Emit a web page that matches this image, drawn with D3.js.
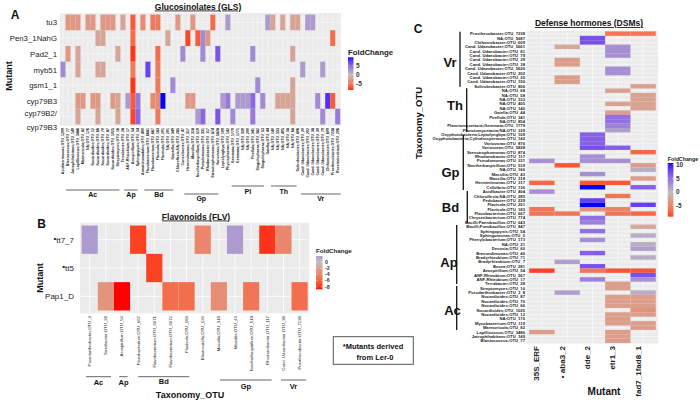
<!DOCTYPE html>
<html><head><meta charset="utf-8">
<script src="https://cdn.jsdelivr.net/npm/d3@7"></script>
<style>body{margin:0;background:#fff;} text{font-family:"Liberation Sans",Arial,sans-serif;}</style>
</head><body><script>
// ---------------- DATA ----------------
const mutantsA = ["tu3","Pen3_1NahG","Pad2_1","myb51","gsm1_1","cyp79B3","cyp79B2/cyp79B3"];
const taxaA = ["Aciditerrimonas;OTU_1209","Blastococcus;OTU_77","Jatrophihabitans;OTU_149","Lapillicoccus;OTU_3486","Marmoricola;OTU_82","NA;OTU_176","Nocardioides;OTU_12","Nocardioides;OTU_66","Nocardioides;OTU_70","Nocardioides;OTU_87","Nocardioides;OTU_1025","Streptomyces;OTU_16","Terrabacter;OTU_28",
 "ANF-Rhizobium;OTU_17","Azospirillum;OTU_54","Sphingopyxis;OTU_54","Armatimonadales;OTU_400",
 "Flavobacterium;OTU_6681","Flavobacterium;OTU_667","Flavisola;OTU_183","Flavisola;OTU_201","NA;OTU_201","Niastella;OTU_349","Chloroflexia;NA;OTU_285","Conexibacter;OTU_47",
 "Herminiimonas;OTU_317","Massilia;OTU_318","Noviherbaspirillum;OTU_519","Pseudomonas;OTU_331","Rhodanobacter;OTU_117","Stenotrophomonas;OTU_874","Variovorax;OTU_5828","Leptolyngbya;OTU_109","Phycisphaerae;OTU_142",
 "Gemmata;OTU_1779","Gemmata;OTU_1771","NA;OTU_339","NA;OTU_200","Pirellula;OTU_341","Singulisphaera;OTU_382","Singulisphaera;OTU_53","Gaiella;OTU_44",
 "NA;OTU_140","NA;OTU_333","NA;OTU_405","NA;OTU_58","NA;OTU_68","Solirubrobacter;OTU_806",
 "Cand. Udaeobacter;OTU_20","Cand. Udaeobacter;OTU_202","Cand. Udaeobacter;OTU_38","Cand. Udaeobacter;OTU_39","Cand. Udaeobacter;OTU_79","Chthoniobacter;OTU_609","Prosthecobacter;OTU_7238","Roseimicrobium;OTU_206"];
const groupsA = [["Ac",66,119.3,190,197],["Ap",124.3,137.7,190,197],["Bd",144.3,173.3,190,197],["Gp",184.3,218.3,194,201],["Pl",231.7,264,186,194],["Th",271,296.7,186,194],["Vr",301,340.7,194,201]];
// [mutant index, taxon index, fold change]
const glsCells = [
 [0,1,-3],[0,2,-3],[0,3,-3],[0,5,-3],[0,6,-3],[0,8,-3],[0,9,-3],[0,10,-3],[0,12,-2],[0,14,-7],[0,16,-4],[0,18,-5],[0,19,-5],[0,23,-3],[0,26,-3],[0,30,-6],[0,33,2],[0,41,2],[0,42,-2],[0,44,-2],[0,46,-2],[0,47,-2],[0,49,2],[0,50,2],
 [1,7,-2],[1,8,-2],[1,14,-6],[1,21,-2],[1,25,-8],[1,27,-7],[1,28,3],[1,29,-3],[1,54,-6],
 [2,1,-3],[2,3,-2],[2,11,-2],[2,14,-8.6],[2,19,-6],[2,24,3],[2,28,3],[2,31,6],[2,38,3],[2,46,-2],
 [3,0,3],[3,3,-2],[3,7,-2],[3,8,-2],[3,14,-5],[3,17,7],[3,19,-5],[3,48,2],[3,52,2],
 [4,14,-8.6],[4,19,-5],[4,22,3],[4,39,3],[4,46,-2],
 [5,3,-3],[5,4,-3],[5,6,-3],[5,7,-3],[5,10,-3],[5,11,-2],[5,13,2],[5,14,-7],[5,15,4],[5,18,-4],[5,19,-4],[5,20,9.5],[5,25,-3],[5,26,-3],[5,32,2],[5,33,4],[5,35,2],[5,36,2],[5,37,2],[5,38,5],[5,40,3],[5,43,-2],[5,44,-2],[5,45,-2],[5,46,-2],[5,51,3],[5,53,8],[5,54,-7],
 [6,3,-2],[6,7,-2],[6,11,-2],[6,14,-8],[6,15,5],[6,19,-5],[6,27,2],[6,28,5],[6,31,6],[6,34,3],[6,38,4],[6,46,-2],[6,52,3],[6,55,4]
];
const legendA = [5,0,-5];

const mutantsB = ["tt7_7","tt5","Pap1_D"];
const bulletB = [true,true,false];
const taxaB = ["Pseudarthrobacter;OTU_3","Terrabacter;OTU_28","Azospirillum;OTU_54","Flavobacterium;OTU_667","Flavobacterium;OTU_6671","Flavobacterium;OTU_6672","Flavisola;OTU_183","Blastocatella;OTU_126","Massilia;OTU_318","Massilia;OTU_43","Noviherbaspirillum;OTU_519","Rhodanobacter;OTU_117","Cand. Udaeobacter;OTU_38","Prosthecobacter;OTU_7238"];
const groupsB = [["Ac",86,111,376.7,385],["Ap",119.3,127.7,376.7,385],["Bd",138.3,189.3,376.7,384],["Gp",220,271.7,380,389],["Vr",281,306,380,389]];
const flvCells = [[0,0,1.9],[0,3,-7.5],[0,7,-4],[0,9,1.9],[0,11,-8],[0,12,-4],[1,4,-7.5],[2,1,-3],[2,2,-8.8],[2,5,-5.5],[2,6,-5.5],[2,8,-3.5],[2,10,-5],[2,13,-5.5]];
const legendB = [0,-2,-4,-6,-8];

const mutantsC = ["35S_ERF","aba3_2","dde_2","etr1_3","fad7_1fad8_1"];
const bulletC = [false,true,false,false,false];
const taxaC = ["Prosthecobacter;OTU_7238","NA;OTU_5687","Chthoniobacter;OTU_609","Cand. Udaeobacter;OTU_5661","Cand. Udaeobacter;OTU_81","Cand. Udaeobacter;OTU_79","Cand. Udaeobacter;OTU_39","Cand. Udaeobacter;OTU_38","Cand. Udaeobacter;OTU_5620","Cand. Udaeobacter;OTU_202","Cand. Udaeobacter;OTU_20","Cand. Udaeobacter;OTU_150","Solirubrobacter;OTU_806","NA;OTU_68","NA;OTU_58","NA;OTU_333","NA;OTU_405","NA;OTU_140","Gaiella;OTU_44","Pirellula;OTU_341","NA;OTU_854","Planctomycetacia;Gemmata;OTU_1779","Planctomycetacia;NA;OTU_339","Oxyphotobacteria;Leptolyngbya;OTU_109","Oxyphotobacteria;Cylindrospermum;OTU_142","Variovorax;OTU_876","Variovorax;OTU_5828","Stenotrophomonas;OTU_874","Rhodanobacter;OTU_117","Pseudomonas;OTU_331","Noviherbaspirillum;OTU_519","NA;OTU_166","Massilia;OTU_43","Massilia;OTU_318","Herminiimonas;OTU_317","Cellvibrio;OTU_136","Acidibacter;OTU_404","Chloroflexia;NA;OTU_285","Pedobacter;OTU_229","Flavisola;OTU_201","Flavisola;OTU_183","Flavobacterium;OTU_667","Chryseobacterium;OTU_774","Bacilli;Paenibacillus;OTU_643","Bacilli;Fumibacillus;OTU_847","Sphingopyxis;OTU_54","Sphingomonas;OTU_5","Phenylobacterium;OTU_173","NA;OTU_21","Devosia;OTU_60","Brevundimonas;OTU_40","Bradyrhizobium;OTU_71","Bradyrhizobium;OTU_7","Bosea;OTU_281","Azospirillum;OTU_54","ANF-Rhizobium;OTU_567","ANF-Rhizobium;OTU_17","Terrabacter;OTU_28","Streptomyces;OTU_16","Pseudarthrobacter;OTU_3_8","Nocardioides;OTU_87","Nocardioides;OTU_70","Nocardioides;OTU_66","Nocardioides;OTU_1025","Nocardioides;OTU_12","NA;OTU_176","Mycobacterium;OTU_119","Marmoricola;OTU_82","Lapillicoccus;OTU_3486","Jatrophihabitans;OTU_149","Blastococcus;OTU_77"];
const groupsC = [["Vr",460,31.7,86.7,450,66.5],["Th",466.7,88.3,131.7,455,109.5],["Gp",463.3,135,190,450.5,177],["Bd",467.3,191,223,450.5,211.5],["Ap",456.7,225,284,449,267],["Ac",456.7,286,330,452.5,314.5]];
// [taxon index, mutant index, fold change]
const dsmCells = [
 [0,3,-6],[0,4,-6],[1,2,7],[2,2,7],[3,1,-2],[3,3,3],[4,3,3],[5,3,3],[6,1,-3],[7,1,-3],[8,3,3],[9,3,3],[10,1,-3],[11,1,-3],
 [12,4,-2.5],[13,3,-2.5],[14,4,-2.5],[15,4,-2.5],[16,3,-2.5],[16,4,-2.5],[17,4,-2.5],[18,3,-3],[19,3,5],[20,3,5],[21,3,4],[22,3,2],
 [23,2,6],[24,2,6],[25,2,6],[26,2,7],[26,3,6],[27,4,-7],[28,2,3],[29,0,3],[29,2,3],[29,3,3],[30,1,-8],[30,4,-3],[31,4,1],[32,2,3],[33,4,-3],
 [34,0,-7],[34,2,-8],[34,3,-8],[35,2,10.6],[35,4,6],[36,0,3],[37,3,-6],[38,2,8],[39,2,10.6],[39,4,8],
 [40,0,-6],[40,2,-4],[40,3,-5],[41,0,-6],[41,1,-6],[41,3,-6],[41,4,-7],[42,2,5],[43,2,4],[44,4,-2],[45,2,5],[46,4,1],[47,2,3],[48,4,1],[49,4,2],
 [50,2,6],[51,4,1],[52,1,2],[53,2,7],[54,0,-9],[54,2,-6],[54,3,-8],[54,4,-8],[55,4,7],[56,2,4],[56,4,3],
 [57,3,-3],[58,3,-3],[59,1,2],[59,4,1],[60,3,-3],[60,4,-3],[61,3,-3],[61,4,-3],[62,3,-3],[62,4,-3],[63,4,-4],[64,3,-3],[64,4,-3],[65,3,-3],[66,3,-3],[66,4,-3],[67,4,-3],[68,0,-3],[68,3,-3],[69,3,-3],[70,3,-3]
];
const legendC = [10,5,0,-5];

// ---------------- DRAWING ----------------
const svg = d3.select("body").append("svg").attr("width",700).attr("height",402);

function colorFor(vals){
  const m = d3.max(vals, v=>Math.abs(v));
  return d3.scaleLinear().domain([-m,0,m]).range(["#ff0000","#bebebe","#0000ff"]).interpolate(d3.interpolateLab);
}

function heat(cfg){
  const g = svg.append("g");
  const x = d3.scaleBand().domain(d3.range(cfg.nx)).range(cfg.xr).paddingOuter(0.1).paddingInner(0);
  const y = d3.scaleBand().domain(d3.range(cfg.ny)).range(cfg.yr).paddingOuter(0.1).paddingInner(0);
  g.append("rect").attr("x",cfg.xr[0]).attr("y",cfg.yr[0]).attr("width",cfg.xr[1]-cfg.xr[0]).attr("height",cfg.yr[1]-cfg.yr[0]).attr("fill","#ebebeb");
  g.selectAll(".gx").data(d3.range(cfg.nx)).join("line").attr("x1",d=>x(d)+x.bandwidth()/2).attr("x2",d=>x(d)+x.bandwidth()/2)
    .attr("y1",cfg.yr[0]).attr("y2",cfg.yr[1]).attr("stroke","#fff").attr("stroke-width",cfg.gw);
  g.selectAll(".gy").data(d3.range(cfg.ny)).join("line").attr("y1",d=>y(d)+y.bandwidth()/2).attr("y2",d=>y(d)+y.bandwidth()/2)
    .attr("x1",cfg.xr[0]).attr("x2",cfg.xr[1]).attr("stroke","#fff").attr("stroke-width",cfg.gw);
  g.selectAll(".t").data(cfg.cells).join("rect")
    .attr("x",d=>x(cfg.cx(d))).attr("y",d=>y(cfg.cy(d))).attr("width",x.bandwidth()).attr("height",y.bandwidth())
    .attr("fill",d=>cfg.color(d[2]));
  return {x,y};
}

function legend(cfg){
  const vals = cfg.vals, lo=d3.min(vals), hi=d3.max(vals);
  const id = "lg"+cfg.id;
  const grad = svg.append("defs").append("linearGradient").attr("id",id).attr("x1",0).attr("x2",0).attr("y1",0).attr("y2",1);
  d3.range(0,1.0001,0.05).forEach(t=>grad.append("stop").attr("offset",t).attr("stop-color",cfg.color(hi-(hi-lo)*t)));
  const s = d3.scaleLinear().domain([hi,lo]).range([cfg.y0,cfg.y1]);
  svg.append("text").attr("x",cfg.x).attr("y",cfg.ty).attr("font-size",cfg.tfs).attr("font-weight","bold").attr("fill","#222").text("FoldChange");
  svg.append("rect").attr("x",cfg.x).attr("y",cfg.y0).attr("width",cfg.w).attr("height",cfg.y1-cfg.y0).attr("fill",`url(#${id})`);
  cfg.ticks.forEach(t=>{
    svg.append("line").attr("x1",cfg.x).attr("x2",cfg.x+cfg.w*0.2).attr("y1",s(t)).attr("y2",s(t)).attr("stroke","#fff").attr("stroke-width",0.5);
    svg.append("line").attr("x1",cfg.x+cfg.w*0.8).attr("x2",cfg.x+cfg.w).attr("y1",s(t)).attr("y2",s(t)).attr("stroke","#fff").attr("stroke-width",0.5);
    svg.append("text").attr("x",cfg.x+cfg.w+2.5).attr("y",s(t)).attr("dy","0.35em").attr("font-size",cfg.lfs).attr("font-weight","bold").attr("fill","#333").text(t);
  });
}

function txt(x,y,s,fs,opt={}){
  const t = svg.append("text").attr("x",x).attr("y",y).attr("font-size",fs).attr("fill",opt.fill||"#111")
    .attr("font-weight",opt.w||"bold").attr("text-anchor",opt.a||"start").text(s);
  if(opt.rot) t.attr("transform",`rotate(${opt.rot},${x},${y})`);
  if(opt.u) t.attr("text-decoration","underline");
  return t;
}

// ----- Panel A -----
const colA = colorFor(glsCells.map(d=>d[2]));
const A = heat({nx:taxaA.length, ny:mutantsA.length, xr:[60,340.7], yr:[13,126], gw:0.4, cells:glsCells, cx:d=>d[1], cy:d=>d[0], color:colA});
txt(15,19,"A",12,{a:"middle"});
txt(198,9.5,"Glucosinolates (GLS)",8.5,{a:"middle",u:true});
mutantsA.forEach((m,i)=>{
  const yc = A.y(i)+A.y.bandwidth()/2;
  if(m.includes("/")){
    txt(57,116,"cyp79B2/",7.8,{a:"end",w:"normal",fill:"#222"});
    txt(57,129.5,"cyp79B3",7.8,{a:"end",w:"normal",fill:"#222"});
  } else txt(57,yc+3,m,7.8,{a:"end",w:"normal",fill:"#222"});
});
txt(11.5,76,"Mutant",9,{a:"middle",rot:-90});
taxaA.forEach((t,i)=>{
  const xc = A.x(i)+A.x.bandwidth()/2+1.2;
  txt(xc,128,t,3.6,{a:"end",rot:-90,fill:"#222"});
});
groupsA.forEach(g=>{
  svg.append("line").attr("x1",g[1]).attr("x2",g[2]).attr("y1",g[3]).attr("y2",g[3]).attr("stroke","#666").attr("stroke-width",1);
  txt((g[1]+g[2])/2,g[4],g[0],7,{a:"middle"});
});
legend({id:"A",vals:glsCells.map(d=>d[2]),color:colA,x:348,w:5.5,y0:57.3,y1:90,ticks:legendA,ty:55,tfs:7.8,lfs:6.5});

// ----- Panel B -----
const colB = colorFor(flvCells.map(d=>d[2]));
const B = heat({nx:taxaB.length, ny:mutantsB.length, xr:[80,309.3], yr:[222.7,313.3], gw:0.8, cells:flvCells, cx:d=>d[1], cy:d=>d[0], color:colB});
txt(41.7,227.5,"B",12,{a:"middle"});
txt(196,219.5,"Flavonoids (FLV)",8.5,{a:"middle",u:true});
mutantsB.forEach((m,i)=>{
  const yc = B.y(i)+B.y.bandwidth()/2;
  const t = txt(74,yc+3,"",8,{a:"end",w:"normal",fill:"#222"});
  if(bulletB[i]) t.append("tspan").attr("font-weight","bold").attr("dy",-2).text("•");
  t.append("tspan").attr("dy",bulletB[i]?2:0).text(m);
});
txt(43,278,"Mutant",9,{a:"middle",rot:-90});
taxaB.forEach((t,i)=>{
  const xc = B.x(i)+B.x.bandwidth()/2+1.5;
  txt(xc,316,t,4.3,{a:"end",rot:-90,w:"normal",fill:"#222"});
});
groupsB.forEach(g=>{
  svg.append("line").attr("x1",g[1]).attr("x2",g[2]).attr("y1",g[3]).attr("y2",g[3]).attr("stroke","#666").attr("stroke-width",1);
  txt((g[1]+g[2])/2,g[4],g[0],7.5,{a:"middle"});
});
txt(190,398,"Taxonomy_OTU",9,{a:"middle"});
legend({id:"B",vals:flvCells.map(d=>d[2]),color:colB,x:316,w:6.5,y0:256,y1:289.3,ticks:legendB,ty:253,tfs:6.2,lfs:5.3});
svg.append("rect").attr("x",333.3).attr("y",336.7).attr("width",80).attr("height",27.6).attr("fill","#fff").attr("stroke","#555").attr("stroke-width",1);
txt(373,348.5,"*Mutants derived",7.5,{a:"middle"});
txt(375,359.5,"from Ler-0",7.5,{a:"middle"});

// ----- Panel C -----
const colC = colorFor(dsmCells.map(d=>d[2]));
const C = heat({nx:mutantsC.length, ny:taxaC.length, xr:[526.7,658.3], yr:[31,343.5], gw:0.5, cells:dsmCells, cx:d=>d[1], cy:d=>d[0], color:colC});
txt(418,33,"C",12,{a:"middle"});
txt(589,26,"Defense hormones (DSMs)",8.5,{a:"middle",u:true});
taxaC.forEach((t,i)=>{
  const yc = C.y(i)+C.y.bandwidth()/2;
  txt(525,yc+1.5,t,4.2,{a:"end",fill:"#222"});
});
groupsC.forEach(g=>{
  svg.append("line").attr("x1",g[1]).attr("x2",g[1]).attr("y1",g[2]).attr("y2",g[3]).attr("stroke","#111").attr("stroke-width",1.3);
  txt(g[4],g[5],g[0],13,{a:"middle"});
});
txt(422,123,"Taxonomy_OTU",9.5,{a:"middle",rot:-90});
mutantsC.forEach((m,i)=>{
  const xc = C.x(i)+C.x.bandwidth()/2-2.5;
  const t = txt(xc,346,"",8,{a:"end",rot:-90,fill:"#222"});
  if(bulletC[i]) t.append("tspan").text("• ");
  t.append("tspan").text(m);
});
txt(604,395,"Mutant",10,{a:"middle"});
legend({id:"C",vals:dsmCells.map(d=>d[2]),color:colC,x:667.7,w:5.7,y0:163,y1:216.7,ticks:legendC,ty:160.5,tfs:5.3,lfs:6.5});
</script></body></html>
